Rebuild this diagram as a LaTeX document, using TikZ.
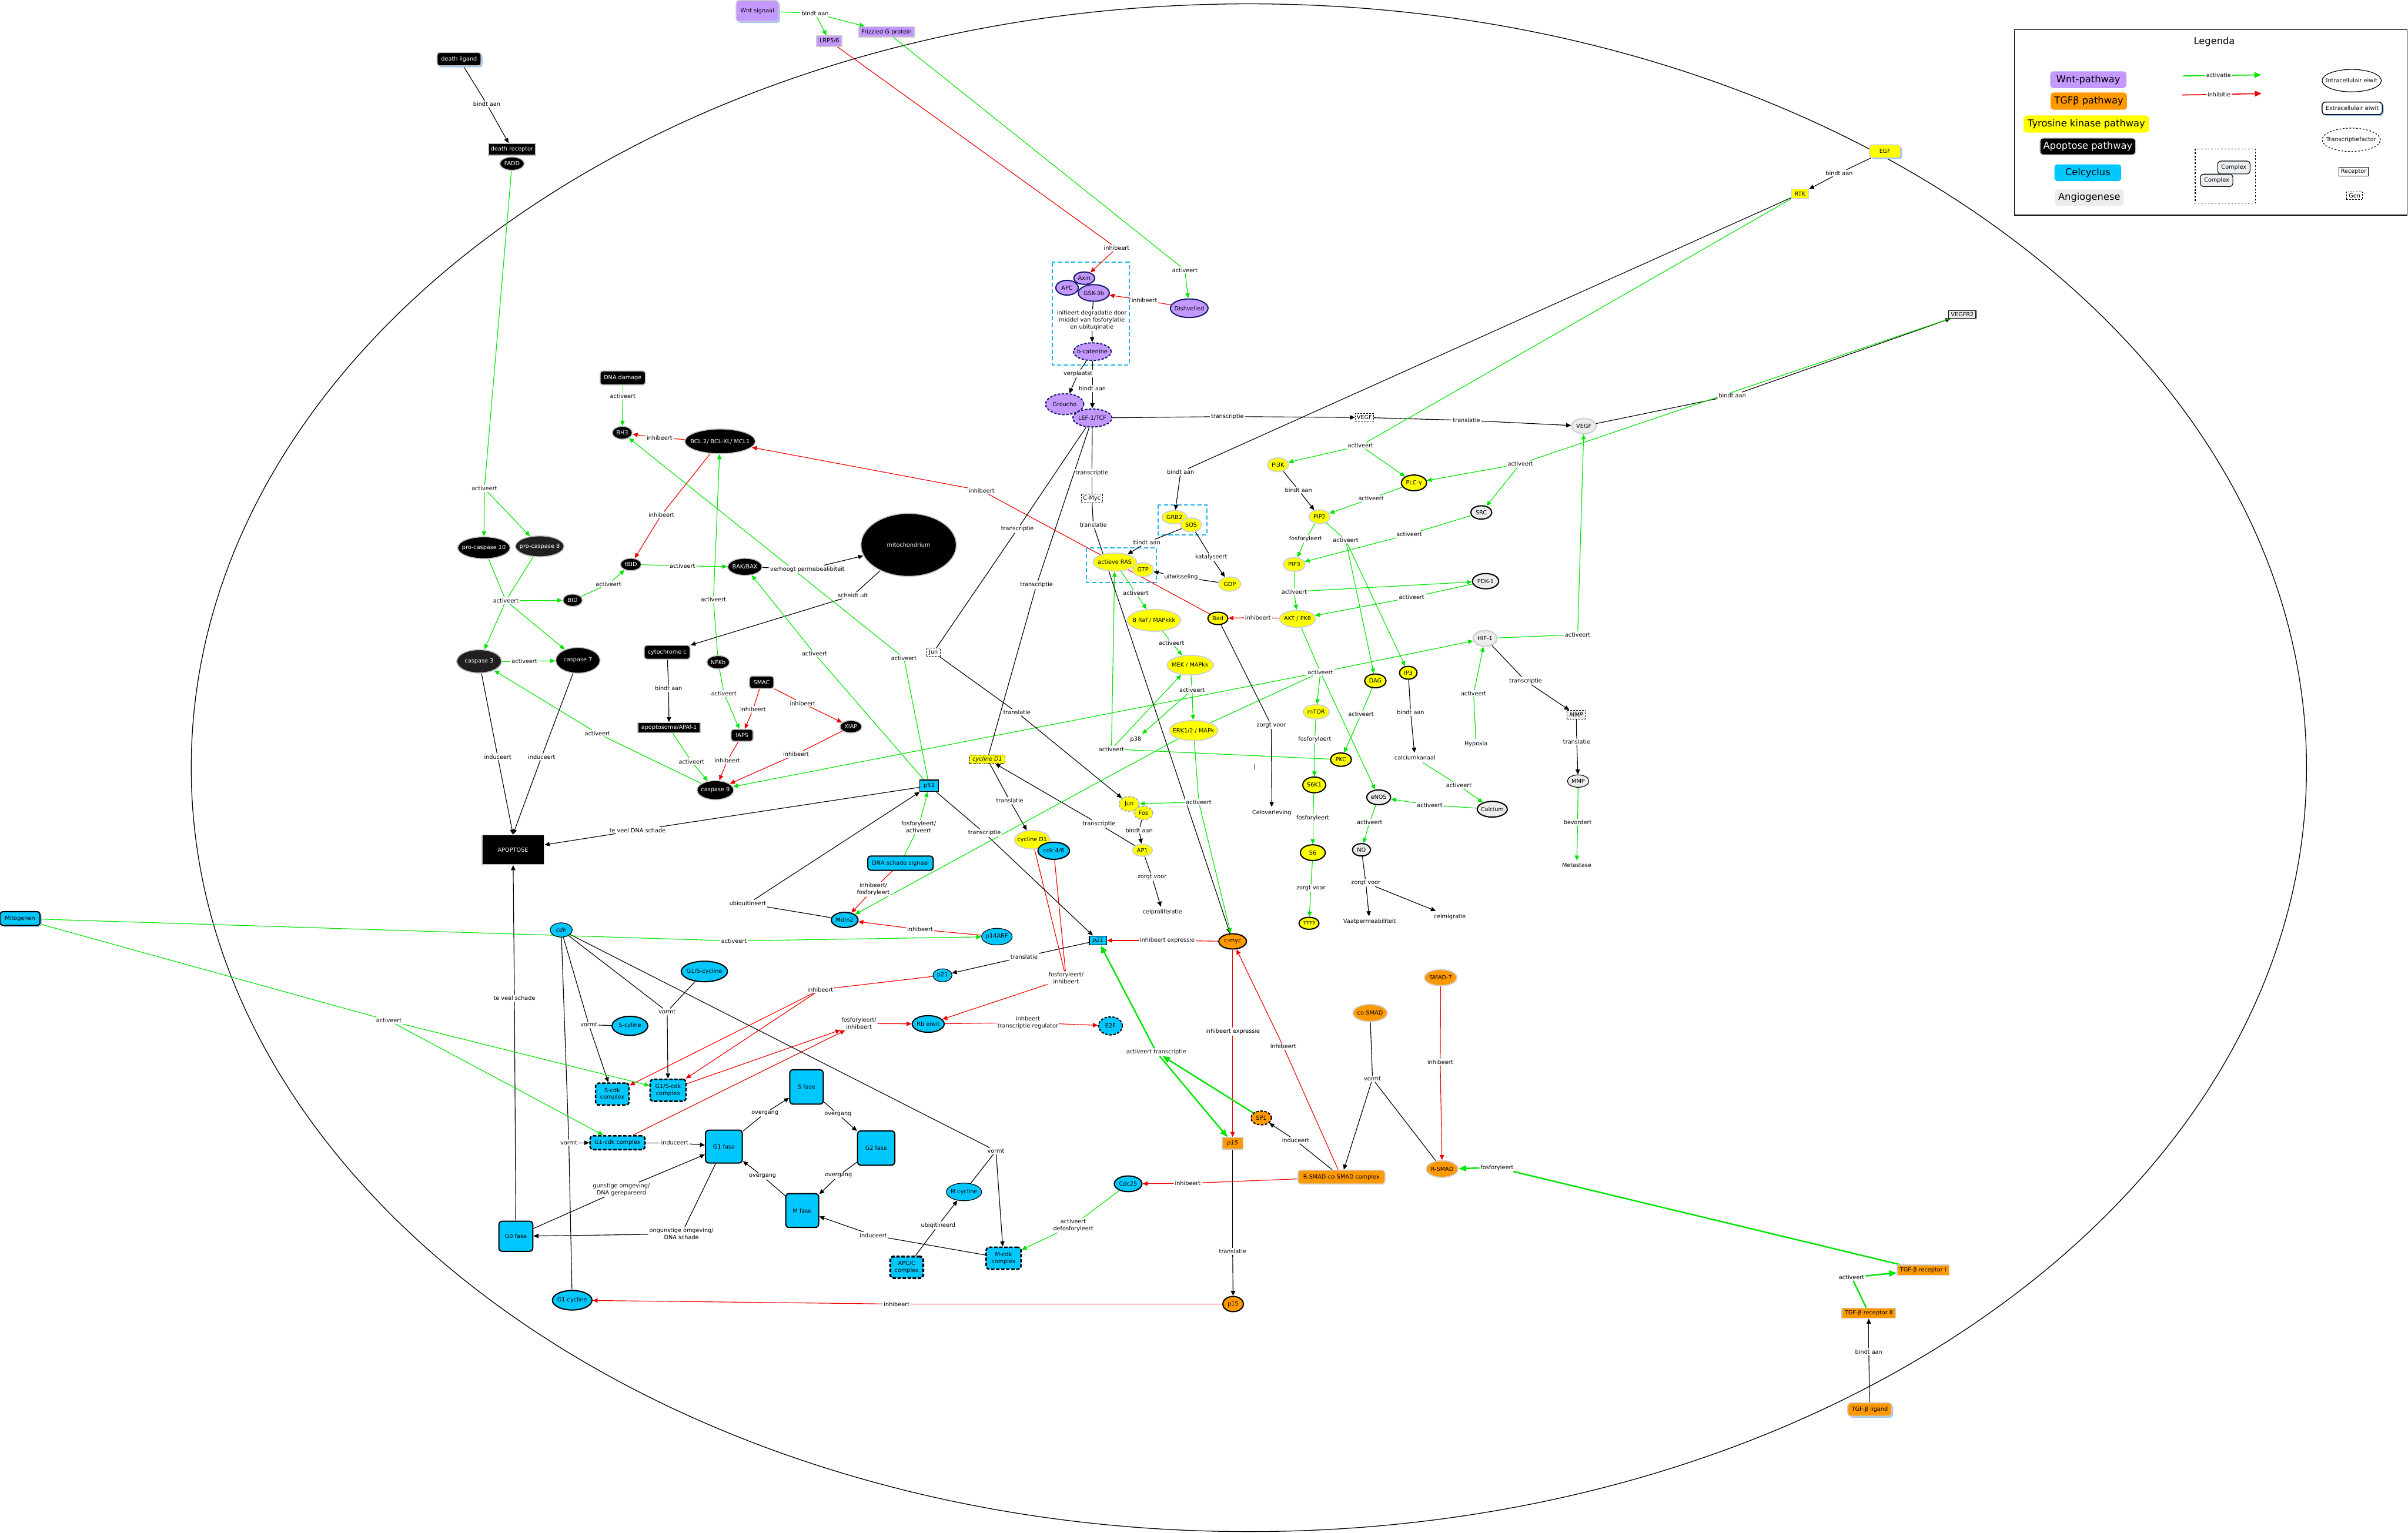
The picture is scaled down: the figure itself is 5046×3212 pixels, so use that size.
\documentclass[tikz,border=0pt]{standalone}
\usepackage{fontspec}
\setmainfont{DejaVu Sans}
\usetikzlibrary{shapes.geometric,arrows.meta,shadows}
\definecolor{wntp}{RGB}{196,153,255}
\definecolor{wntb}{RGB}{25,25,110}
\definecolor{tgfo}{RGB}{255,153,0}
\definecolor{tky}{RGB}{255,255,0}
\definecolor{ccc}{RGB}{0,200,255}
\definecolor{angio}{RGB}{236,236,236}
\definecolor{actg}{RGB}{0,230,0}
\definecolor{inhr}{RGB}{240,0,0}
\definecolor{shb}{RGB}{160,200,245}
\definecolor{boxc}{RGB}{30,180,230}
\definecolor{dgray}{RGB}{32,32,32}
\definecolor{cplx}{RGB}{236,240,242}
\pgfdeclarelayer{bg}
\pgfsetlayers{bg,main}
\newcommand\myfs{\fontsize{3.4}{4.1}\selectfont}
\newcommand\mygf{\fontsize{5.7}{6.8}\selectfont}
\newcommand\mz[1]{\makebox[0pt]{#1}}
\tikzset{
  every node/.style={font=\myfs,inner sep=0pt,align=center},
  sz/.style 2 args={minimum width=#1*0.01cm,minimum height=#2*0.01cm},
  extsh/.style={drop shadow={shadow xshift=0.9pt,shadow yshift=-0.9pt,fill=shb,opacity=1}},
  apoel/.style={ellipse,fill=black,draw=gray!45,line width=0.6pt,text=white},
  apobx/.style={rectangle,fill=black,draw=gray!45,line width=0.6pt,text=white},
  aporb/.style={apobx,rounded corners=1.5pt},
  wntel/.style={ellipse,fill=wntp,draw=wntb,line width=0.7pt},
  wntbx/.style={rectangle,fill=wntp,draw=gray!40,line width=0.6pt},
  dsh/.style={dash pattern=on 1.5pt off 0.9pt},
  ybx/.style={rectangle,fill=tky,draw=gray!40,line width=0.5pt},
  yel/.style={ellipse,fill=tky,draw=gray!35,line width=0.7pt},
  yelb/.style={ellipse,fill=tky,draw=black,line width=0.7pt},
  ccel/.style={ellipse,fill=ccc,draw=black,line width=0.7pt},
  ccr/.style={rectangle,fill=ccc,draw=black,line width=0.5pt},
  ccbx/.style={rectangle,rounded corners=2pt,fill=ccc,draw=black,line width=0.7pt},
  ccdash/.style={ccbx,line width=0.9pt,dash pattern=on 2pt off 1pt},
  orel/.style={ellipse,fill=tgfo,draw=gray!35,line width=0.7pt},
  orelb/.style={ellipse,fill=tgfo,draw=black,line width=0.7pt},
  orbx/.style={rectangle,fill=tgfo,draw=gray!40,line width=0.6pt},
  anel/.style={ellipse,fill=angio,draw=black,line width=0.7pt},
  anelg/.style={ellipse,fill=angio,draw=gray!40,line width=0.7pt},
  abx/.style={rectangle,fill=angio,draw=black,line width=0.4pt},
  gene/.style={rectangle,draw=black,fill=white,line width=0.35pt,dash pattern=on 1pt off 0.7pt},
  lab/.style={fill=white,inner sep=0.5pt},
  tx/.style={inner sep=1.5pt},
  legbox/.style={rectangle,rounded corners=2pt,font=\mygf},
  >={Triangle[length=3pt,width=2.6pt]},
  gl/.style={draw=actg,line width=0.4pt},
  gla/.style={gl,->},
  rl/.style={draw=inhr,line width=0.4pt},
  rla/.style={rl,->},
  kl/.style={draw=black,line width=0.4pt},
  kla/.style={kl,->},
  gtl/.style={draw=actg,line width=0.85pt},
  gtla/.style={gtl,-{Triangle[length=4.5pt,width=3.6pt]}},
  grpbox/.style={draw=boxc,line width=0.7pt,dash pattern=on 2.5pt off 1.5pt}
}
\begin{document}
\begin{tikzpicture}[x=0.01cm,y=-0.01cm]
\useasboundingbox (0,0) rectangle (5046,3212);

% ================= NODES: Apoptosis
\node[aporb,extsh,sz={92}{28}] (dligand) at (962,124) {death ligand};
\node[apobx,sz={98}{24}] (drec) at (1073,313) {death receptor};
\node[apoel,sz={51}{28}] (fadd) at (1073,343) {\mz{FADD}};
\node[aporb,sz={95}{29}] (dnadmg) at (1305,792) {DNA damage};
\node[apoel,sz={42}{27}] (bh3) at (1304,907) {\mz{BH3}};
\node[apoel,sz={148}{52}] (bcl) at (1509,925) {\mz{BCL 2/ BCL-XL/ MCL1}};
\node[apoel,sz={110}{46}] (pc10) at (1014,1148) {\mz{pro-caspase 10}};
\node[apoel,fill=dgray,sz={102}{44}] (pc8) at (1131,1145) {\mz{pro-caspase 8}};
\node[apoel,sz={41}{26}] (bid) at (1200,1258) {\mz{BID}};
\node[apoel,sz={44}{26}] (tbid) at (1322,1183) {\mz{tBID}};
\node[apoel,sz={72}{36}] (bakbax) at (1561,1188) {\mz{BAK/BAX}};
\node[apoel,sz={200}{132}] (mito) at (1904,1142) {\mz{mitochondrium}};
\node[aporb,sz={96}{29}] (cytc) at (1398,1367) {cytochrome c};
\node[apobx,sz={131}{21}] (apaf) at (1402,1525) {apoptosome/APAf-1};
\node[apoel,sz={48}{28}] (nfkb) at (1505,1388) {\mz{NFKb}};
\node[aporb,sz={51}{26}] (smac) at (1596,1430) {SMAC};
\node[aporb,sz={46}{25}] (iaps) at (1555,1541) {IAPS};
\node[apoel,sz={46}{26}] (xiap) at (1783,1523) {\mz{XIAP}};
\node[apoel,sz={77}{40}] (casp9) at (1499,1656) {\mz{caspase 9}};
\node[apoel,fill=dgray,sz={94}{49}] (casp3) at (1004,1386) {\mz{caspase 3}};
\node[apoel,sz={93}{54}] (casp7) at (1211,1384) {\mz{caspase 7}};
\node[apobx,sz={130}{62}] (apoptose) at (1075,1781) {APOPTOSE};

% ================= Wnt
\node[wntbx,rounded corners=2pt,extsh,sz={89}{44}] (wnt) at (1587,23) {Wnt signaal};
\node[wntbx,sz={53}{22}] (lrp) at (1738,86) {LRP5/6};
\node[wntbx,sz={117}{22}] (friz) at (1858,67) {Frizzled G-protein};
\node[wntel,sz={44}{26}] (axin) at (2272,583) {\mz{Axin}};
\node[wntel,sz={47}{31}] (apc) at (2236,603) {\mz{APC}};
\node[wntel,sz={65}{35}] (gsk) at (2292,614) {\mz{GSK-3b}};
\node[wntel,sz={79}{39}] (dish) at (2492,646) {\mz{Dishvelled}};
\node[wntel,dsh,sz={79}{37}] (bcat) at (2289,737) {\mz{b-catenine}};
\node[wntel,dsh,sz={80}{44}] (groucho) at (2231,847) {\mz{Groucho}};
\node[wntel,dsh,sz={82}{38}] (lef) at (2289,876) {\mz{LEF-1/TCF}};

% ================= Tyrosine kinase
\node[ybx,rounded corners=2pt,extsh,sz={65}{27}] (egf) at (3950,317) {EGF};
\node[ybx,sz={36}{20}] (rtk) at (3772,406) {RTK};
\node[yel,sz={44}{29}] (pi3k) at (2678,974) {\mz{PI3K}};
\node[yelb,sz={53}{33}] (plc) at (2963,1012) {\mz{PLC-γ}};
\node[yel,sz={52}{28}] (grb2) at (2461,1084) {\mz{GRB2}};
\node[yel,sz={44}{29}] (sos) at (2496,1100) {\mz{SOS}};
\node[yel,sz={91}{38}] (ras) at (2336,1178) {\mz{actieve RAS}};
\node[yel,sz={44}{29}] (gtp) at (2395,1194) {\mz{GTP}};
\node[yel,sz={46}{30}] (gdp) at (2577,1224) {\mz{GDP}};
\node[yel,sz={44}{29}] (pip2) at (2765,1083) {\mz{PIP2}};
\node[yel,sz={45}{29}] (pip3) at (2712,1183) {\mz{PIP3}};
\node[yel,sz={75}{36}] (akt) at (2719,1297) {\mz{AKT / PK8}};
\node[yelb,sz={42}{26}] (bad) at (2552,1296) {\mz{Bad}};
\node[yel,sz={112}{46}] (braf) at (2418,1300) {\mz{B Raf / MAPkkk}};
\node[yel,sz={97}{41}] (mek) at (2494,1394) {\mz{MEK / MAPkk}};
\node[yel,sz={102}{42}] (erk) at (2501,1531) {\mz{ERK1/2 / MAPk}};
\node[tx] (p38) at (2380,1550) {p38};
\node[rectangle,fill=tky,draw=black,line width=0.4pt,dash pattern=on 1.2pt off 0.6pt on 0.3pt off 0.6pt,sz={74}{18}] (cycG) at (2069,1591) {\textit{cycline D1}};
\node[yel,sz={74}{39}] (cycd1) at (2163,1760) {\mz{cycline D1}};
\node[ccel,sz={66}{36}] (cdk46) at (2208,1783) {\mz{cdk 4/6}};
\node[yel,draw=gray!60,dsh,sz={42}{31}] (jun) at (2366,1685) {\mz{Jun}};
\node[yel,draw=gray!60,dsh,sz={39}{28}] (fos) at (2396,1704) {\mz{Fos}};
\node[yel,sz={42}{25}] (ap1) at (2394,1782) {\mz{AP1}};
\node[tx] (celprol) at (2436,1912) {celproliferatie};
\node[tx] (celov) at (2665,1703) {Celoverleving};
\node (vbar) at (2629,1607) {|};
\node[yel,sz={55}{30}] (mtor) at (2758,1492) {\mz{mTOR}};
\node[yelb,sz={45}{29}] (dag) at (2882,1427) {\mz{DAG}};
\node[yelb,sz={37}{27}] (ip3) at (2951,1410) {\mz{IP3}};
\node[tx] (ckan) at (2965,1588) {calciumkanaal};
\node[yelb,sz={44}{28}] (pkc) at (2810,1592) {\mz{PKC}};
\node[yelb,sz={48}{33}] (s6k1) at (2754,1645) {\mz{S6K1}};
\node[yelb,sz={52}{33}] (s6) at (2751,1787) {\mz{S6}};
\node[yelb,sz={42}{25}] (qq) at (2743,1935) {\mz{????}};
\node[anel,sz={50}{31}] (enos) at (2889,1671) {\mz{eNOS}};
\node[anel,sz={38}{26}] (no) at (2853,1781) {\mz{NO}};
\node[tx] (vaat) at (2870,1932) {Vaatpermeabiliteit};
\node[tx] (celmig) at (3038,1921) {celmigratie};
\node[gene,sz={30}{17}] (junG) at (1956,1367) {Jun};
\node[gene,sz={45}{18}] (cmycG) at (2288,1045) {C-Myc};
\node[gene,sz={38}{16}] (vegfG) at (2859,875) {VEGF};

% ================= Angiogenese
\node[anelg,sz={51}{32}] (vegf) at (3319,893) {\mz{VEGF}};
\node[abx,sz={57}{16}] (vegfr2) at (4112,659) {VEGFR2};
\node[anel,sz={44}{28}] (src) at (3104,1074) {\mz{SRC}};
\node[anel,sz={55}{32}] (pdk1) at (3113,1218) {\mz{PDK-1}};
\node[anelg,sz={50}{33}] (hif) at (3112,1338) {\mz{HIF-1}};
\node[tx] (hypoxia) at (3093,1560) {Hypoxia};
\node[gene,fill=angio,sz={38}{18}] (mmpG) at (3303,1498) {\textit{MMP}};
\node[anel,line width=0.4pt,sz={45}{26}] (mmp) at (3307,1637) {\mz{MMP}};
\node[tx] (metastase) at (3304,1814) {Metastase};
\node[anel,sz={63}{33}] (calcium) at (3127,1696) {\mz{Calcium}};

% ================= Cell cycle
\node[ccr,sz={40}{24}] (p53) at (1947,1647) {p53};
\node[ccbx,sz={137}{30}] (dnass) at (1887,1809) {DNA schade signaal};
\node[ccel,sz={56}{32}] (mdm2) at (1770,1928) {\mz{Mdm2}};
\node[ccel,line width=0.4pt,sz={64}{35}] (p14) at (2089,1963) {\mz{p14ARF}};
\node[ccbx,extsh,sz={84}{29}] (mitog) at (42,1925) {Mitogenen};
\node[ccel,line width=0.4pt,sz={46}{30}] (cdk) at (1176,1949) {\mz{\textit{cdk}}};
\node[ccel,sz={97}{43}] (g1s) at (1476,2036) {\mz{G1/S-cycline}};
\node[ccr,sz={36}{19}] (p21G) at (2301,1971) {\textit{p21}};
\node[ccel,line width=0.4pt,sz={40}{27}] (p21) at (1975,2044) {\mz{p21}};
\node[ccel,sz={67}{35}] (rb) at (1945,2146) {\mz{Rb eiwit}};
\node[ccel,dsh,sz={50}{38}] (e2f) at (2327,2150) {\mz{E2F}};
\node[ccel,sz={75}{40}] (scyl) at (1320,2150) {\mz{S-cyline}};
\node[ccdash,sz={70}{46}] (scdk) at (1283,2293) {S-cdk\\complex};
\node[ccdash,sz={75}{46}] (g1scdk) at (1400,2285) {G1/S-cdk\\complex};
\node[ccdash,sz={115}{29}] (g1cdk) at (1294,2395) {G1-cdk complex};
\node[ccbx,sz={70}{72}] (sfase) at (1690,2278) {S fase};
\node[ccbx,sz={77}{69}] (g1fase) at (1517,2403) {G1 fase};
\node[ccbx,sz={78}{72}] (g2fase) at (1836,2406) {G2 fase};
\node[ccbx,sz={69}{71}] (mfase) at (1681,2537) {M fase};
\node[ccbx,sz={71}{63}] (g0fase) at (1081,2591) {G0 fase};
\node[ccel,line width=0.4pt,sz={74}{37}] (mcyc) at (2020,2498) {\mz{M cycline}};
\node[ccdash,line width=1.2pt,sz={69}{45}] (apcc) at (1900,2656) {APC/C\\complex};
\node[ccdash,sz={73}{46}] (mcdk) at (2103,2637) {M-cdk\\complex};
\node[ccel,sz={58}{33}] (cdc25) at (2364,2481) {\mz{Cdc25}};
\node[ccel,sz={83}{41}] (g1cyc) at (1199,2725) {\mz{G1 cycline}};

% ================= TGF-beta
\node[orelb,sz={58}{32}] (cmyc) at (2583,1973) {\mz{c-myc}};
\node[orel,sz={68}{34}] (smad7) at (3019,2049) {\mz{SMAD-7}};
\node[orel,sz={72}{36}] (cosmad) at (2871,2123) {\mz{co-SMAD}};
\node[orelb,dsh,sz={43}{29}] (sp1) at (2643,2343) {\mz{SP1}};
\node[orbx,sz={44}{24}] (p15G) at (2583,2396) {\textit{p15}};
\node[orbx,rounded corners=2pt,sz={182}{29}] (rsmadc) at (2811,2467) {R-SMAD-co-SMAD complex};
\node[orel,sz={67}{35}] (rsmad) at (3022,2450) {\mz{R-SMAD}};
\node[orelb,sz={43}{32}] (p15) at (2584,2733) {\mz{p15}};
\node[orbx,sz={109}{21}] (tgfr1) at (4030,2662) {TGF-β receptor I};
\node[orbx,sz={112}{21}] (tgfr2) at (3916,2752) {TGF-β receptor II};
\node[orbx,rounded corners=2pt,extsh,sz={92}{28}] (tgfl) at (3918,2954) {TGF-β ligand};

% ================= Edge labels
\node[lab] (L1) at (1708,28) {bindt aan};
\node[lab] (L2) at (2340,520) {inhibeert};
\node[lab] (L3) at (2483,566) {activeert};
\node[lab] (L4) at (2398,629) {inhibeert};
\node[lab] (L5) at (2288,671) {initieert degradatie door\\middel van fosforylatie\\en ubituqinatie};
\node[lab] (L6) at (2259,783) {verplaatst};
\node[lab] (L7) at (2289,814) {bindt aan};
\node[lab] (L8) at (2572,873) {transcriptie};
\node[lab] (L9) at (3073,881) {translatie};
\node[lab] (L10) at (3630,829) {bindt aan};
\node[lab] (L11) at (3186,972) {activeert};
\node[lab] (L12) at (3854,363) {bindt aan};
\node[lab] (L13) at (2851,934) {activeert};
\node[lab] (L14) at (2474,989) {bindt aan};
\node[lab] (L15) at (2403,1137) {bindt aan};
\node[lab] (L16) at (2538,1168) {katalyseert};
\node[lab] (L17) at (2475,1209) {uitwisseling};
\node[lab] (L18) at (2380,1243) {activeert};
\node[lab] (L19) at (2455,1347) {activeert};
\node[lab] (L20) at (2498,1446) {activeert};
\node[lab] (L21) at (2329,1570) {activeert};
\node[lab] (L22) at (2721,1027) {bindt aan};
\node[lab] (L23) at (2873,1045) {activeert};
\node[lab] (L24) at (2736,1129) {fosforyleert};
\node[lab] (L25) at (2820,1132) {activeert};
\node[lab] (L26) at (2953,1120) {activeert};
\node[lab] (L27) at (2712,1240) {activeert};
\node[lab] (L28) at (2958,1252) {activeert};
\node[lab] (L29) at (2636,1294) {inhibeert};
\node[lab] (L30) at (2767,1409) {activeert};
\node[lab] (L31) at (2755,1550) {fosforyleert};
\node[lab] (L32) at (2751,1715) {fosforyleert};
\node[lab] (L33) at (2747,1861) {zorgt voor};
\node[lab] (L34) at (2852,1497) {activeert};
\node[lab] (L35) at (2956,1493) {bindt aan};
\node[lab] (L36) at (3057,1646) {activeert};
\node[lab] (L37) at (2996,1687) {activeert};
\node[lab] (L38) at (2870,1723) {activeert};
\node[lab] (L39) at (2862,1850) {zorgt voor};
\node[lab] (L40) at (2664,1520) {zorgt voor};
\node[lab] (L41) at (2057,1028) {inhibeert};
\node[lab] (L42) at (3306,1330) {activeert};
\node[lab] (L43) at (3088,1453) {activeert};
\node[lab] (L44) at (3197,1427) {transcriptie};
\node[lab] (L45) at (3304,1555) {translatie};
\node[lab] (L46) at (3306,1723) {bevordert};
\node[lab] (L47) at (2288,991) {transcriptie};
\node[lab] (L48) at (2291,1100) {translatie};
\node[lab] (L49) at (2132,1109) {transcriptie};
\node[lab] (L50) at (2131,1493) {translatie};
\node[lab] (L51) at (2172,1226) {transcriptie};
\node[lab] (L52) at (2116,1678) {translatie};
\node[lab] (L53) at (2303,1727) {transcriptie};
\node[lab] (L54) at (2512,1681) {activeert};
\node[lab] (L55) at (2387,1740) {bindt aan};
\node[lab] (L56) at (2414,1838) {zorgt voor};
\node[lab] (L57) at (2234,2050) {fosforyleert/\\inhibeert};
\node[lab] (L58) at (2154,2143) {inhbeert\\transcriptie regulator};
\node[lab] (L59) at (2063,1746) {transcriptie};
\node[lab] (L60) at (2446,1971) {inhibeert expressie};
\node[lab] (L61) at (2146,2005) {translatie};
\node[lab] (L62) at (1719,2074) {inhibeert};
\node[lab] (L63) at (1800,2145) {fosforyleert/\\inhibeert};
\node[lab] (L64) at (2583,2162) {inhibeert expressie};
\node[lab] (L65) at (2423,2205) {activeert transcriptie};
\node[lab] (L66) at (2689,2193) {inhibeert};
\node[lab] (L67) at (2715,2390) {induceert};
\node[lab] (L68) at (2876,2261) {vormt};
\node[lab] (L69) at (3018,2226) {inhibeert};
\node[lab] (L70) at (3137,2447) {fosforyleert};
\node[lab] (L71) at (3880,2677) {activeert};
\node[lab] (L72) at (3916,2833) {bindt aan};
\node[lab] (L73) at (2583,2623) {translatie};
\node[lab] (L74) at (1879,2733) {inhibeert};
\node[lab] (L75) at (2489,2480) {inhibeert};
\node[lab] (L76) at (2249,2568) {activeert\\defosforyleert};
\node[lab] (L77) at (1830,2589) {induceert};
\node[lab] (L78) at (1966,2568) {ubiqitineerd};
\node[lab] (L79) at (2087,2412) {vormt};
\node[lab] (L80) at (1603,2333) {overgang};
\node[lab] (L81) at (1756,2335) {overgang};
\node[lab] (L82) at (1757,2464) {overgang};
\node[lab] (L83) at (1598,2465) {overgang};
\node[lab] (L84) at (1414,2395) {induceert};
\node[lab] (L85) at (1302,2493) {gunstige omgeving/\\DNA gerepareerd};
\node[lab] (L86) at (1428,2586) {ongunstige omgeving/\\DNA schade};
\node[lab] (L87) at (1078,2092) {te veel schade};
\node[lab] (L88) at (1234,2148) {vormt};
\node[lab] (L89) at (1398,2120) {vormt};
\node[lab] (L90) at (1192,2395) {vormt};
\node[lab] (L91) at (815,2139) {activeert};
\node[lab] (L92) at (1538,1972) {activeert};
\node[lab] (L93) at (1928,1948) {inhibeert};
\node[lab] (L94) at (1567,1894) {ubiquitineert};
\node[lab] (L95) at (1830,1864) {inhibeert/\\fosforyleert};
\node[lab] (L96) at (1925,1733) {fosforyleert/\\activeert};
\node[lab] (L98) at (1336,1740) {te veel DNA schade};
\node[lab] (L99) at (1707,1370) {activeert};
\node[lab] (L100) at (1894,1379) {activeert};
\node[lab] (L101) at (1020,218) {bindt aan};
\node[lab] (L102) at (1015,1024) {activeert};
\node[lab] (L103) at (1060,1259) {activeert};
\node[lab] (L104) at (1275,1224) {activeert};
\node[lab] (L105) at (1430,1186) {activeert};
\node[lab] (L106) at (1692,1193) {verhoogt permebealibiteit};
\node[lab] (L107) at (1787,1248) {scheidt uit};
\node[lab] (L108) at (1401,1443) {bindt aan};
\node[lab] (L109) at (1449,1596) {activeert};
\node[lab] (L110) at (1495,1257) {activeert};
\node[lab] (L111) at (1517,1453) {activeert};
\node[lab] (L112) at (1578,1487) {inhibeert};
\node[lab] (L113) at (1682,1474) {inhibeert};
\node[lab] (L114) at (1524,1594) {inhibeert};
\node[lab] (L115) at (1668,1581) {inhibeert};
\node[lab] (L116) at (1252,1537) {activeert};
\node[lab] (L117) at (1099,1386) {activeert};
\node[lab] (L118) at (1043,1586) {induceert};
\node[lab] (L119) at (1135,1586) {induceert};
\node[lab] (L120) at (1305,830) {activeert};
\node[lab] (L121) at (1382,918) {inhibeert};
\node[lab] (L122) at (1386,1079) {inhibeert};

% ================= Legend
\node[font=\mygf] (legt) at (4640,88) {Legenda};
\node[legbox,fill=wntp,sz={160}{35}] (lw) at (4376,167) {Wnt-pathway};
\node[legbox,fill=tgfo,sz={160}{36}] (lt) at (4377,212) {TGFβ pathway};
\node[legbox,fill=tky,sz={263}{36}] (ly) at (4372,260) {Tyrosine kinase pathway};
\node[legbox,fill=black,text=white,draw=gray!50,line width=0.5pt,sz={200}{35}] (la) at (4375,307) {Apoptose pathway};
\node[legbox,fill=ccc,sz={140}{35}] (lc) at (4375,362) {Celcyclus};
\node[legbox,fill=angio,sz={145}{34}] (lg) at (4378,414) {Angiogenese};
\coordinate (lact1) at (4575,159);
\coordinate (lact2) at (4738,157);
\node[lab] (lactl) at (4649,158) {activatie};
\coordinate (linh1) at (4573,199);
\coordinate (linh2) at (4739,196);
\node[lab] (linhl) at (4650,198) {inhibitie};
\node[rectangle,rounded corners=2pt,fill=cplx,draw=black,line width=0.4pt,sz={68}{27}] (lcx1) at (4681,351) {Complex};
\node[rectangle,rounded corners=2pt,fill=cplx,draw=black,line width=0.4pt,sz={68}{26}] (lcx2) at (4645,378) {Complex};
\node[ellipse,draw=black,fill=white,line width=0.4pt,sz={124}{47}] (lie) at (4928,169) {\mz{Intracellulair eiwit}};
\node[rectangle,rounded corners=2pt,draw=black,fill=white,extsh,line width=0.5pt,sz={126}{26}] (lee) at (4929,227) {Extracellulair eiwit};
\node[ellipse,draw=black,fill=white,dash pattern=on 1pt off 1pt,line width=0.4pt,sz={122}{49}] (ltf) at (4927,293) {\mz{Transcriptiefactor}};
\node[rectangle,draw=black,fill=white,line width=0.4pt,sz={61}{18}] (lrec) at (4932,360) {Receptor};
\node[gene,sz={34}{16}] (lgen) at (4934,410) {Gen};

% ================= EDGES (background)
\begin{pgfonlayer}{bg}
\draw[line width=0.45pt] (2617,1609) ellipse [x radius=22.15cm, y radius=16cm];
\draw[grpbox] (2205,550) rectangle (2366,765);
\draw[grpbox] (2427,1058) rectangle (2529,1121);
\draw[grpbox] (2277,1148) rectangle (2423,1221);
\draw[line width=0.5pt] (4221,62) rectangle (5044,451);
\draw[line width=0.4pt,dash pattern=on 1pt off 1pt] (4600,312) rectangle (4726,426);
\draw[gl,line width=0.6pt] (lact1) -- (lactl);
\draw[gl,line width=0.6pt,-{Triangle[length=4pt,width=3.4pt]}] (lactl) -- (lact2);
\draw[rl,line width=0.6pt] (linh1) -- (linhl);
\draw[rl,line width=0.6pt,-{Triangle[length=4pt,width=3.4pt]}] (linhl) -- (linh2);

% apoptosis
\draw[kl] (dligand) -- (L101); \draw[kla] (L101) -- (drec);
\draw[gl] (fadd) -- (L102); \draw[gla] (L102) -- (pc10); \draw[gla] (L102) -- (pc8);
\draw[gl] (pc10) -- (L103); \draw[gl] (pc8) -- (L103);
\draw[gla] (L103) -- (casp3); \draw[gla] (L103) -- (casp7); \draw[gla] (L103) -- (bid);
\draw[gl] (bid) -- (L104); \draw[gla] (L104) -- (tbid);
\draw[gl] (tbid) -- (L105); \draw[gla] (L105) -- (bakbax);
\draw[kl] (bakbax) -- (L106); \draw[kla] (L106) -- (mito);
\draw[kl] (mito) -- (L107); \draw[kla] (L107) -- (cytc);
\draw[kl] (cytc) -- (L108); \draw[kla] (L108) -- (apaf);
\draw[gl] (apaf) -- (L109); \draw[gla] (L109) -- (casp9);
\draw[gl] (nfkb) -- (L110); \draw[gla] (L110) -- (bcl);
\draw[gl] (nfkb) -- (L111); \draw[gla] (L111) -- (iaps);
\draw[rl] (smac) -- (L112); \draw[rla] (L112) -- (iaps);
\draw[rl] (smac) -- (L113); \draw[rla] (L113) -- (xiap);
\draw[rl] (iaps) -- (L114); \draw[rla] (L114) -- (casp9);
\draw[rl] (xiap) -- (L115); \draw[rla] (L115) -- (casp9);
\draw[gl] (casp9) -- (L116); \draw[gla] (L116) -- (casp3);
\draw[gl] (casp3) -- (L117); \draw[gla] (L117) -- (casp7);
\draw[kl] (casp3) -- (L118); \draw[kla] (L118) -- (apoptose.north);
\draw[kl] (casp7) -- (L119); \draw[kla] (L119) -- (apoptose.north);
\draw[gl] (dnadmg) -- (L120); \draw[gla] (L120) -- (bh3);
\draw[rl] (bcl) -- (L121); \draw[rla] (L121) -- (bh3);
\draw[rl] (bcl) -- (L122); \draw[rla] (L122) -- (tbid);
\draw[kl] (p53) -- (L98); \draw[kla] (L98) -- (apoptose);
\draw[gl] (p53) -- (L99); \draw[gla] (L99) -- (bakbax);
\draw[gl] (p53) -- (L100); \draw[gla] (L100) -- (bh3);

% wnt
\draw[gl] (wnt) -- (L1); \draw[gla] (L1) -- (lrp); \draw[gla] (L1) -- (friz);
\draw[rl] (lrp) -- (L2); \draw[rla] (L2) -- (axin);
\draw[gl] (friz) -- (L3); \draw[gla] (L3) -- (dish);
\draw[rl] (dish) -- (L4); \draw[rla] (L4) -- (gsk);
\draw[kl] (gsk) -- (L5); \draw[kla] (L5) -- (bcat);
\draw[kl] (bcat) -- (L6); \draw[kla] (L6) -- (groucho);
\draw[kl] (bcat) -- (L7); \draw[kla] (L7) -- (lef);
\draw[kl] (lef) -- (L8); \draw[kla] (L8) -- (vegfG);
\draw[kl] (vegfG) -- (L9); \draw[kla] (L9) -- (vegf);
\draw[kl] (vegf) -- (L10); \draw[kla] (L10) -- (vegfr2);
\draw[gl] (vegfr2) -- (L11); \draw[gla] (L11) -- (plc); \draw[gla] (L11) -- (src);
\draw[kl] (egf) -- (L12); \draw[kla] (L12) -- (rtk);
\draw[gl] (rtk) -- (L13); \draw[gla] (L13) -- (pi3k); \draw[gla] (L13) -- (plc);
\draw[kl] (rtk) -- (L14); \draw[kla] (L14) -- (grb2);

% tyrosine kinase
\draw[kl] (sos) -- (L15); \draw[kla] (L15) -- (ras);
\draw[kl] (sos) -- (L16); \draw[kla] (L16) -- (gdp);
\draw[kl] (gdp) -- (L17); \draw[kla] (L17) -- (gtp);
\draw[gl] (ras) -- (L18); \draw[gla] (L18) -- (braf);
\draw[gl] (braf) -- (L19); \draw[gla] (L19) -- (mek);
\draw[gl] (mek) -- (L20); \draw[gla] (L20) -- (erk); \draw[gla] (L20) -- (p38);
\draw[gl] (pkc) -- (L21); \draw[gla] (L21) -- (ras); \draw[gla] (L21) -- (mek);
\draw[kl] (pi3k) -- (L22); \draw[kla] (L22) -- (pip2);
\draw[gl] (plc) -- (L23); \draw[gla] (L23) -- (pip2);
\draw[gl] (pip2) -- (L24); \draw[gla] (L24) -- (pip3);
\draw[gl] (pip2) -- (L25); \draw[gla] (L25) -- (dag); \draw[gla] (L25) -- (ip3);
\draw[gl] (src) -- (L26); \draw[gla] (L26) -- (pip3);
\draw[gl] (pip3) -- (L27); \draw[gla] (L27) -- (akt); \draw[gla] (L27) -- (pdk1);
\draw[gl] (pdk1) -- (L28); \draw[gla] (L28) -- (akt);
\draw[rl] (akt) -- (L29); \draw[rla] (L29) -- (bad);
\draw[gl] (akt) -- (L30); \draw[gl] (erk) -- (L30);
\draw[gla] (L30) -- (mtor); \draw[gla] (L30) -- (enos); \draw[gla] (L30) -- (hif); \draw[gla] (L30) -- (casp9);
\draw[gl] (mtor) -- (L31); \draw[gla] (L31) -- (s6k1);
\draw[gl] (s6k1) -- (L32); \draw[gla] (L32) -- (s6);
\draw[gl] (s6) -- (L33); \draw[gla] (L33) -- (qq);
\draw[gl] (dag) -- (L34); \draw[gla] (L34) -- (pkc);
\draw[kl] (ip3) -- (L35); \draw[kla] (L35) -- (ckan);
\draw[gl] (ckan) -- (L36); \draw[gla] (L36) -- (calcium);
\draw[gl] (calcium) -- (L37); \draw[gla] (L37) -- (enos);
\draw[gl] (enos) -- (L38); \draw[gla] (L38) -- (no);
\draw[kl] (no) -- (L39); \draw[kla] (L39) -- (vaat); \draw[kla] (L39) -- (celmig);
\draw[kl] (bad) -- (L40); \draw[kla] (L40) -- (celov);
\draw[rl] (bad) -- (L41); \draw[rla] (L41) -- (bcl);
\draw[gl] (hif) -- (L42); \draw[gla] (L42) -- (vegf);
\draw[gl] (hypoxia) -- (L43); \draw[gla] (L43) -- (hif);
\draw[kl] (hif) -- (L44); \draw[kla] (L44) -- (mmpG);
\draw[kl] (mmpG) -- (L45); \draw[kla] (L45) -- (mmp);
\draw[gl] (mmp) -- (L46); \draw[gla] (L46) -- (metastase);
\draw[kl] (lef) -- (L47); \draw[kl] (L47) -- (cmycG);
\draw[kl] (cmycG) -- (L48); \draw[kla] (L48) -- (cmyc);
\draw[kl] (lef) -- (L49); \draw[kl] (L49) -- (junG);
\draw[kl] (junG) -- (L50); \draw[kla] (L50) -- (jun);
\draw[kl] (lef) -- (L51); \draw[kl] (L51) -- (cycG);
\draw[kl] (cycG) -- (L52); \draw[kla] (L52) -- (cycd1);
\draw[kl] (ap1) -- (L53); \draw[kla] (L53) -- (cycG);
\draw[gl] (erk) -- (L54); \draw[gla] (L54) -- (jun); \draw[gla] (L54) -- (cmyc);
\draw[kl] (fos) -- (L55); \draw[kla] (L55) -- (ap1);
\draw[kl] (ap1) -- (L56); \draw[kla] (L56) -- (celprol);

% cell cycle / p53
\draw[rl] (cycd1) -- (L57); \draw[rl] (cdk46) -- (L57); \draw[rla] (L57) -- (rb);
\draw[rl] (rb) -- (L58); \draw[rla] (L58) -- (e2f);
\draw[kl] (p53) -- (L59); \draw[kla] (L59) -- (p21G);
\draw[rl] (cmyc) -- (L60); \draw[rla] (L60) -- (p21G);
\draw[kl] (p21G) -- (L61); \draw[kla] (L61) -- (p21);
\draw[rl] (p21) -- (L62); \draw[rla] (L62) -- (scdk); \draw[rla] (L62) -- (g1scdk);
\draw[rla] (g1scdk) -- (L63); \draw[rla] (g1cdk) -- (L63); \draw[rla] (L63) -- (rb);
\draw[rl] (cmyc) -- (L64); \draw[rla] (L64) -- (p15G);
\draw[gtla] (sp1) -- (L65); \draw[gtla] (L65) -- (p21G); \draw[gtla] (L65) -- (p15G);
\draw[rl] (rsmadc) -- (L66); \draw[rla] (L66) -- (cmyc);
\draw[kl] (rsmadc) -- (L67); \draw[kla] (L67) -- (sp1);
\draw[kl] (cosmad) -- (L68); \draw[kl] (rsmad) -- (L68); \draw[kla] (L68) -- (rsmadc);
\draw[rl] (smad7) -- (L69); \draw[rla] (L69) -- (rsmad);
\draw[gtl] (tgfr1) -- (L70); \draw[gtla] (L70) -- (rsmad);
\draw[gtl] (tgfr2) -- (L71); \draw[gtla] (L71) -- (tgfr1);
\draw[kl] (tgfl) -- (L72); \draw[kla] (L72) -- (tgfr2);
\draw[kl] (p15G) -- (L73); \draw[kla] (L73) -- (p15);
\draw[rl] (p15) -- (L74); \draw[rla] (L74) -- (g1cyc);
\draw[rl] (rsmadc) -- (L75); \draw[rla] (L75) -- (cdc25);
\draw[gl] (cdc25) -- (L76); \draw[gla] (L76) -- (mcdk);
\draw[kl] (mcdk) -- (L77); \draw[kla] (L77) -- (mfase);
\draw[kl] (apcc) -- (L78); \draw[kla] (L78) -- (mcyc);
\draw[kl] (mcyc) -- (L79); \draw[kl] (cdk) -- (L79); \draw[kla] (L79) -- (mcdk);
\draw[kl] (g1fase) -- (L80); \draw[kla] (L80) -- (sfase);
\draw[kl] (sfase) -- (L81); \draw[kla] (L81) -- (g2fase);
\draw[kl] (g2fase) -- (L82); \draw[kla] (L82) -- (mfase);
\draw[kl] (mfase) -- (L83); \draw[kla] (L83) -- (g1fase);
\draw[kl] (g1cdk) -- (L84); \draw[kla] (L84) -- (g1fase);
\draw[kl] (g0fase) -- (L85); \draw[kla] (L85) -- (g1fase);
\draw[kl] (g1fase) -- (L86); \draw[kla] (L86) -- (g0fase);
\draw[kl] (g0fase) -- (L87); \draw[kla] (L87) -- (apoptose);
\draw[kl] (cdk) -- (L88); \draw[kl] (scyl) -- (L88); \draw[kla] (L88) -- (scdk);
\draw[kl] (cdk) -- (L89); \draw[kl] (g1s) -- (L89); \draw[kla] (L89) -- (g1scdk);
\draw[kl] (cdk) -- (L90); \draw[kl] (g1cyc) -- (L90); \draw[kla] (L90) -- (g1cdk);
\draw[gl] (mitog) -- (L91); \draw[gla] (L91) -- (g1scdk); \draw[gla] (L91) -- (g1cdk);
\draw[gl] (mitog) -- (L92); \draw[gla] (L92) -- (p14);
\draw[rl] (p14) -- (L93); \draw[rla] (L93) -- (mdm2);
\draw[kl] (mdm2) -- (L94); \draw[kla] (L94) -- (p53);
\draw[rl] (dnass) -- (L95); \draw[rla] (L95) -- (mdm2);
\draw[gl] (dnass) -- (L96); \draw[gla] (L96) -- (p53);
\draw[gla] (erk) -- (mdm2);
\end{pgfonlayer}
\end{tikzpicture}
\end{document}
